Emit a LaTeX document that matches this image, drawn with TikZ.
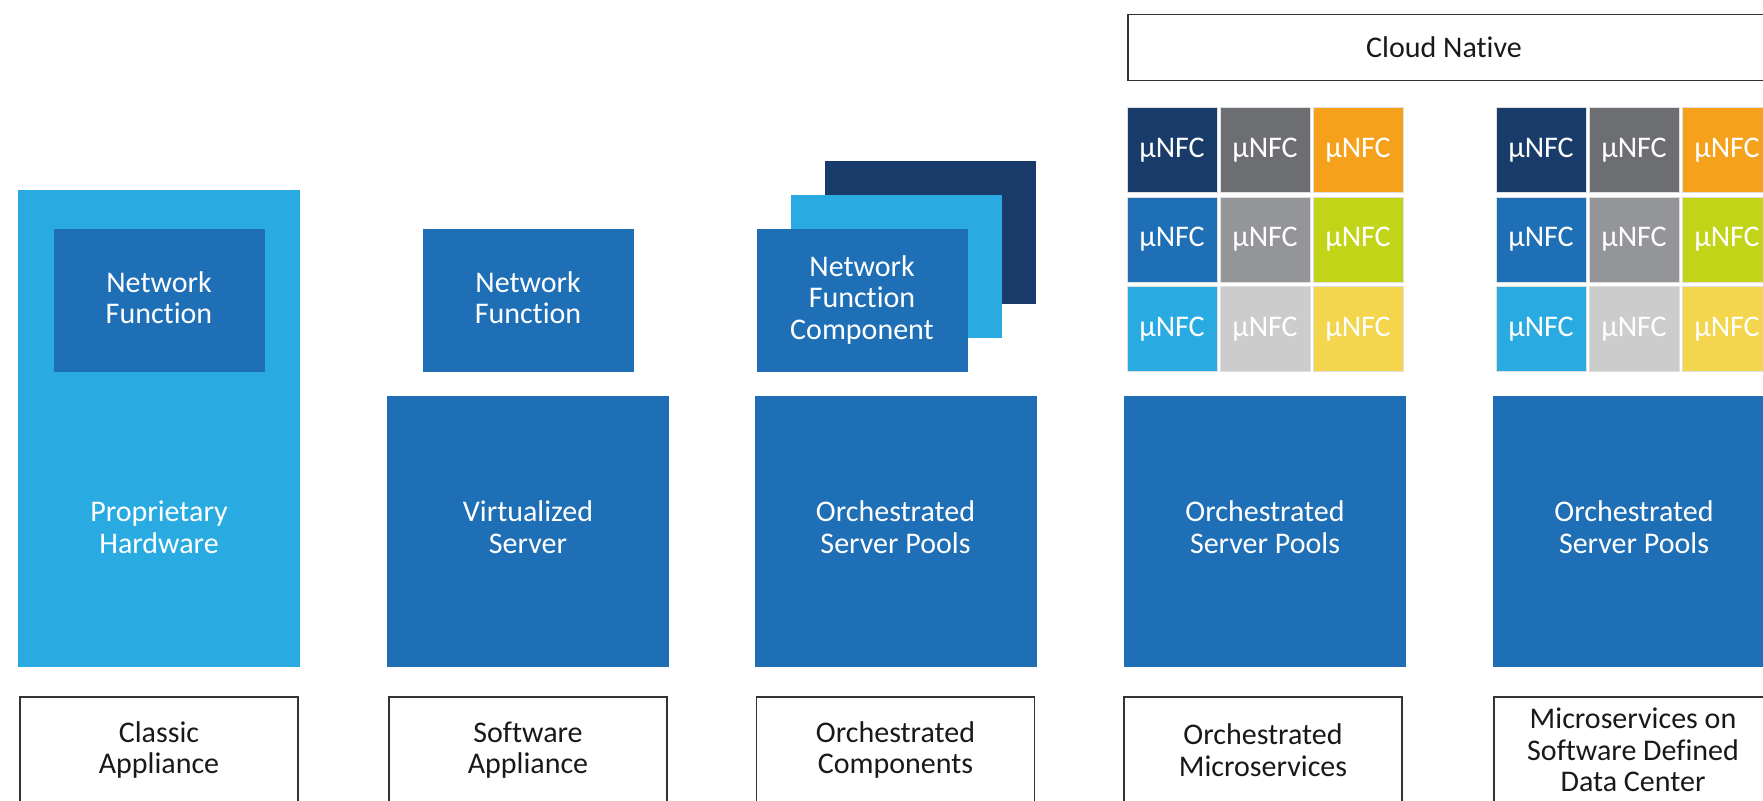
\documentclass[tikz,border=0pt]{standalone}
\usepackage{fontspec}
\setmainfont[Ligatures=NoCommon]{Carlito}

\definecolor{skyblue}{HTML}{29ABE2}
\definecolor{midblue}{HTML}{1E6FB6}
\definecolor{navy}{HTML}{183B6A}
\definecolor{darkgray}{HTML}{6D6E71}
\definecolor{midgray}{HTML}{939598}
\definecolor{lightgray}{HTML}{CCCCCC}
\definecolor{orange}{HTML}{F5A11C}
\definecolor{lime}{HTML}{C2D417}
\definecolor{yellow}{HTML}{F4D54E}

% cell colours of the microservice grid, row by row
\colorlet{nfc11}{navy}    \colorlet{nfc12}{darkgray}  \colorlet{nfc13}{orange}
\colorlet{nfc21}{midblue} \colorlet{nfc22}{midgray}   \colorlet{nfc23}{lime}
\colorlet{nfc31}{skyblue} \colorlet{nfc32}{lightgray} \colorlet{nfc33}{yellow}

\tikzset{
  blk/.style={rectangle, inner sep=0pt, align=center, text=white,
    font=\fontsize{30}{31.5}\selectfont},
  pool/.style={blk, fill=midblue, minimum width=282, minimum height=271, text depth=9},
  nf/.style={blk, fill=midblue, minimum width=211, minimum height=143, text depth=5},
  cell/.style={blk, draw=white!75!gray, line width=0.8, minimum width=90, minimum height=85},
  tag/.style={blk, draw=black!80, line width=1.5, fill=white, text=black!90,
    minimum width=278, minimum height=106},
}

\begin{document}
\begin{tikzpicture}[x=1pt, y=-1pt]
    \useasboundingbox (0,0) rectangle (1763,800);
    \clip (0,0) rectangle (1763,800);

    % classic appliance
    \node[blk, fill=skyblue, minimum width=282, minimum height=477] (hw) at (159,428.5) {};
    \node[blk, text depth=9] (hwtext) at (159,531.5) {Proprietary\\Hardware};
    \node[nf] (nf1) at (159,300) {Network\\Function};
    \node[tag] (tag1) at (159,750) {Classic\\Appliance};

    % software appliance
    \node[pool] (pool2) at (528,531.5) {Virtualized\\Server};
    \node[nf] (nf2) at (528,300) {Network\\Function};
    \node[tag] (tag2) at (528,750) {Software\\Appliance};

    % orchestrated components
    \node[pool] (pool3) at (895.5,531.5) {Orchestrated\\Server Pools};
    \node[nf, fill=navy] (nfc3c) at (930.5,232.5) {};
    \node[nf, fill=skyblue] (nfc3b) at (896,266) {};
    \node[nf] (nfc3a) at (862,300) {Network\\Function\\Component};
    \node[tag] (tag3) at (895.5,750) {Orchestrated\\Components};

    % cloud native
    \node[blk, draw=black!80, line width=1.5, minimum width=680, minimum height=66,
      anchor=west] (cloud) at (1127,47.5) {};
    \node[blk, text=black!90] (cloudtext) at (1444,47.5) {Cloud Native};

    \node[pool] (pool4) at (1265,531.5) {Orchestrated\\Server Pools};
    \node[tag] (tag4) at (1263,750) {Orchestrated\\Microservices};

    \node[pool] (pool5) at (1634,531.5) {Orchestrated\\Server Pools};
    \node[tag] (tag5) at (1633,750) {Microservices on\\Software Defined\\Data Center};

    \foreach \cx/\g in {1265/a,1634/b}{
      \foreach \r/\y in {1/150,2/239.5,3/329}{
        \foreach \c/\dx in {1/-93,2/0,3/93}{
          \node[cell, fill=nfc\r\c] (\g\r\c) at ({\cx+(\dx)},\y) {µNFC};
        }
      }
    }

\end{tikzpicture}
\end{document}
